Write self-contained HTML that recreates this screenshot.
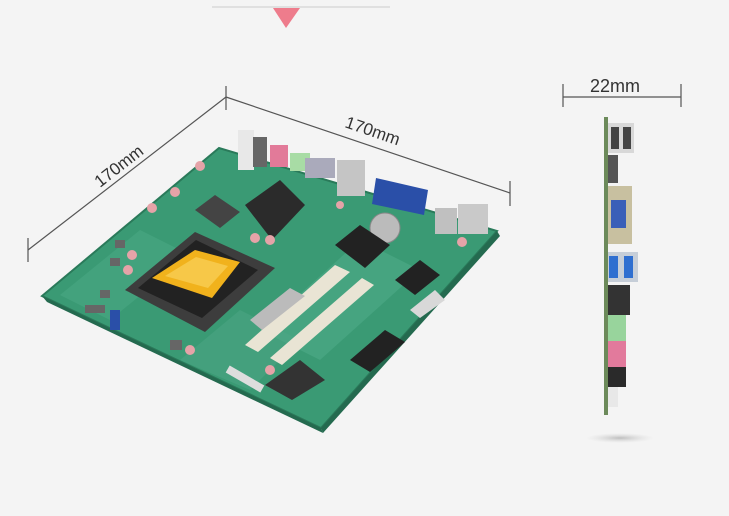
<!DOCTYPE html>
<html><head><meta charset="utf-8"><style>
html,body{margin:0;padding:0;background:#f4f4f4;}
svg{display:block}
text{font-family:"Liberation Sans",sans-serif;fill:#333;}
</style></head><body>
<svg width="729" height="516" viewBox="0 0 729 516" xmlns="http://www.w3.org/2000/svg">
<defs>
<radialGradient id="sh" cx="50%" cy="50%" r="50%"><stop offset="0" stop-color="#999" stop-opacity=".6"/><stop offset="1" stop-color="#ccc" stop-opacity="0"/></radialGradient>
</defs>
<rect width="729" height="516" fill="#f4f4f4"/>
<line x1="212" y1="7" x2="390" y2="7" stroke="#ccc" stroke-width="1"/>
<polygon points="273,8 300,8 286,28" fill="#ee7c8c"/>

<g stroke="#555" stroke-width="1.2" fill="none">
<line x1="28" y1="250" x2="226" y2="97"/>
<line x1="28" y1="238" x2="28" y2="262"/>
<line x1="226" y1="86" x2="226" y2="110"/>
<line x1="226" y1="97" x2="510" y2="193"/>
<line x1="510" y1="181" x2="510" y2="206"/>
<line x1="563" y1="97" x2="681" y2="97"/>
<line x1="563" y1="84" x2="563" y2="107"/>
<line x1="681" y1="84" x2="681" y2="107"/>
</g>
<text x="0" y="0" font-size="17" transform="translate(100,188) rotate(-38)">170mm</text>
<text x="0" y="0" font-size="17" transform="translate(344,127) rotate(19)">170mm</text>
<text x="590" y="92" font-size="18">22mm</text>

<polygon points="42,296 219,148 497,231 321,428" fill="#3a9a74"/>
<polygon points="42,296 219,148 497,231 321,428" fill="none" stroke="#2a7a5a" stroke-width="2"/>
<polygon points="42,296 47,302 323,433 321,428" fill="#246a4f"/>
<polygon points="321,428 323,433 500,236 497,231" fill="#246a4f"/>
<polygon points="60,295 140,230 190,255 110,320" fill="#4aa883" opacity=".6"/>
<polygon points="260,330 360,240 420,270 320,360" fill="#52ad8b" opacity=".5"/>
<polygon points="180,360 240,310 300,340 250,390" fill="#4ea685" opacity=".5"/>

<rect x="238" y="130" width="16" height="40" fill="#e8e8e8"/>
<rect x="253" y="137" width="14" height="30" fill="#666"/>
<rect x="270" y="145" width="18" height="22" fill="#e27a99"/>
<rect x="290" y="153" width="20" height="18" fill="#a8dca5"/>
<rect x="305" y="158" width="30" height="20" fill="#aab"/>
<rect x="337" y="160" width="28" height="36" fill="#c5c5c5"/>
<polygon points="376,178 428,190 424,215 372,204" fill="#2a4fa8"/>
<rect x="435" y="208" width="22" height="26" fill="#c0c0c0"/>
<rect x="458" y="204" width="30" height="30" fill="#c9c9c9"/>
<polygon points="245,205 280,180 305,205 272,240" fill="#2b2b2b"/>
<polygon points="195,210 215,195 240,212 220,228" fill="#444"/>
<circle cx="385" cy="228" r="15" fill="#bbb" stroke="#888"/>
<polygon points="335,245 360,225 390,245 365,268" fill="#222"/>
<polygon points="125,290 195,232 275,268 205,332" fill="#3d3d3d"/>
<polygon points="138,288 196,240 258,270 202,318" fill="#222"/>
<polygon points="152,278 195,250 240,262 212,298" fill="#f1b21c"/>
<polygon points="165,276 196,257 228,266 208,288" fill="#f7c848"/>
<polygon points="245,345 335,265 350,272 258,352" fill="#e9e4d4"/>
<polygon points="270,358 362,278 374,285 282,365" fill="#e9e4d4"/>
<polygon points="250,320 290,288 305,296 262,330" fill="#bbb"/>
<polygon points="350,360 385,330 405,342 370,372" fill="#222"/>
<polygon points="265,385 300,360 325,380 292,400" fill="#333"/>
<rect x="225" y="375" width="40" height="8" fill="#ddd" transform="rotate(30 245 379)"/>
<polygon points="395,280 420,260 440,275 415,295" fill="#222"/>
<polygon points="410,310 435,290 445,300 420,318" fill="#d8d8d8"/>
<g fill="#e5a3a8">
<circle cx="175" cy="192" r="5"/><circle cx="152" cy="208" r="5"/><circle cx="200" cy="166" r="5"/>
<circle cx="132" cy="255" r="5"/><circle cx="128" cy="270" r="5"/><circle cx="255" cy="238" r="5"/><circle cx="270" cy="240" r="5"/>
<circle cx="190" cy="350" r="5"/><circle cx="270" cy="370" r="5"/><circle cx="462" cy="242" r="5"/><circle cx="340" cy="205" r="4"/>
</g>
<g fill="#666">
<rect x="115" y="240" width="10" height="8"/><rect x="110" y="258" width="10" height="8"/><rect x="100" y="290" width="10" height="8"/>
<rect x="170" y="340" width="12" height="10"/><rect x="110" y="310" width="10" height="20" fill="#2a4fa8"/>
<rect x="85" y="305" width="20" height="8"/>
</g>

<ellipse cx="620" cy="438" rx="34" ry="5" fill="url(#sh)"/>
<rect x="604" y="117" width="4" height="298" fill="#6c8a5a"/>
<rect x="608" y="123" width="26" height="30" fill="#d8d8d8"/>
<rect x="611" y="127" width="8" height="22" fill="#444"/><rect x="623" y="127" width="8" height="22" fill="#444"/>
<rect x="608" y="155" width="10" height="28" fill="#555"/>
<rect x="608" y="186" width="24" height="58" fill="#c8c0a0"/>
<rect x="611" y="200" width="15" height="28" fill="#3a5fb8"/>
<rect x="608" y="252" width="30" height="30" fill="#c6ced8"/>
<rect x="609" y="256" width="9" height="22" fill="#2f6fd0"/><rect x="624" y="256" width="9" height="22" fill="#2f6fd0"/>
<rect x="608" y="285" width="22" height="30" fill="#333"/>
<rect x="608" y="315" width="18" height="26" fill="#98d49c"/>
<rect x="608" y="341" width="18" height="26" fill="#e27a9c"/>
<rect x="608" y="367" width="18" height="20" fill="#2a2a2a"/>
<rect x="608" y="387" width="10" height="20" fill="#e8e8e8"/>
</svg>
</body></html>
